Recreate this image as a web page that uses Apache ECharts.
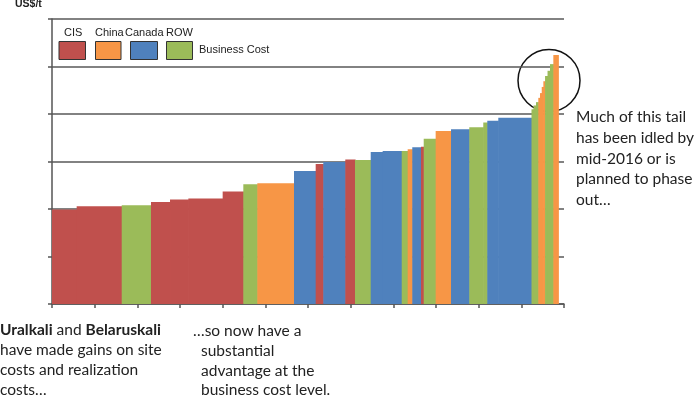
<!DOCTYPE html>
<html>
<head>
<meta charset="utf-8">
<script src="https://cdn.jsdelivr.net/npm/echarts@6/dist/echarts.min.js"></script>
<style>
html,body{margin:0;padding:0;background:#fff;}
#chart{width:698px;height:399px;}
</style>
</head>
<body>
<div id="chart"></div>
<script>
// Regions (legend order)
const regions = ['CIS', 'China', 'Canada', 'ROW'];
// Capacity (width of each bar, x units) in cost order
const capacity = [2.89, 5.28, 3.43, 2.23, 2.15, 4.02, 2.42, 1.64, 4.30, 2.54,
                  0.89, 2.58, 1.14, 1.84, 1.40, 2.23, 0.70, 0.54, 1.02, 0.32,
                  1.40, 1.80, 2.14, 1.64, 0.47, 1.29, 3.89, 0.24, 0.29, 0.27,
                  0.20, 0.20, 0.19, 0.20, 0.29, 0.29, 0.39, 0.58];
// Business cost (US$/t) of each bar
const cost = [199, 206, 208, 215, 220, 222, 237, 252, 254, 280,
              295, 299, 304, 303, 320, 322, 322, 326, 330, 331,
              348, 364, 368, 372, 382, 386, 392, 410, 418, 425,
              434, 444, 457, 469, 480, 491, 505, 524];
// Region of each bar
const region = ['CIS', 'CIS', 'ROW', 'CIS', 'CIS', 'CIS', 'CIS', 'ROW', 'China', 'Canada',
                'CIS', 'Canada', 'CIS', 'ROW', 'Canada', 'Canada', 'ROW', 'China', 'Canada', 'CIS',
                'ROW', 'China', 'Canada', 'ROW', 'ROW', 'Canada', 'Canada', 'ROW', 'ROW', 'ROW',
                'China', 'China', 'China', 'China', 'ROW', 'ROW', 'ROW', 'China'];

const colors = { CIS: '#C0504D', China: '#F79646', Canada: '#4F81BD', ROW: '#9BBB59' };

// Build [start, end, cost, regionIndex]
const barData = [];
let acc = 0;
for (let i = 0; i < capacity.length; i++) {
  barData.push([acc, acc + capacity[i], cost[i], regions.indexOf(region[i])]);
  acc += capacity[i];
}

const chart = echarts.init(document.getElementById('chart'), null, { renderer: 'canvas' });

const txtColor = '#222';
const bodyFont = 'Lato';
const bodySize = 15.5;
function line(x, y, text, rich) {
  return {
    type: 'text', x: x, y: y, silent: true,
    style: {
      text: text, fill: txtColor, fontFamily: bodyFont, fontSize: bodySize,
      verticalAlign: 'bottom',
      rich: rich || undefined
    }
  };
}
const boldRich = { b: { fontWeight: 'bold', fontFamily: bodyFont, fontSize: bodySize, fill: txtColor, color: txtColor } };

const legendItems = [
  { name: 'CIS', lx: 64, sx: 59, sw: 26.5 },
  { name: 'China', lx: 95, sx: 95.5, sw: 25.5 },
  { name: 'Canada', lx: 125, sx: 130.5, sw: 27 },
  { name: 'ROW', lx: 166, sx: 166.5, sw: 26 }
];
const legendGraphics = [];
legendItems.forEach(function (it) {
  legendGraphics.push({
    type: 'text', x: it.lx, y: 38, silent: true,
    style: { text: it.name, fill: '#222', fontFamily: 'Liberation Sans', fontSize: 11, verticalAlign: 'bottom' }
  });
  legendGraphics.push({
    type: 'rect', silent: true,
    shape: { x: it.sx, y: 41.5, width: it.sw, height: 18 },
    style: { fill: colors[it.name], stroke: '#333', lineWidth: 1 }
  });
});
legendGraphics.push({
  type: 'text', x: 199, y: 55, silent: true,
  style: { text: 'Business Cost', fill: '#222', fontFamily: 'Liberation Sans', fontSize: 11, verticalAlign: 'bottom' }
});

const option = {
  animation: false,
  backgroundColor: '#fff',
  grid: { left: 52, top: 19, right: 134, bottom: 95, containLabel: false },
  xAxis: {
    type: 'value', min: 0, max: 60, interval: 5,
    axisLine: { show: true, lineStyle: { color: '#555', width: 1.5 } },
    axisTick: { show: true, inside: false, length: 4, lineStyle: { color: '#555', width: 1.5 } },
    axisLabel: { show: false },
    splitLine: { show: false }
  },
  yAxis: {
    type: 'value', min: 0, max: 600, interval: 100,
    axisLine: { show: true, lineStyle: { color: '#555', width: 1.5 } },
    axisTick: { show: true, inside: false, length: 4, lineStyle: { color: '#555', width: 1.5 } },
    axisLabel: { show: false },
    splitLine: { show: true, lineStyle: { color: '#595959', width: 1.5 } }
  },
  series: [{
    type: 'custom',
    data: barData,
    encode: { x: [0, 1], y: 2 },
    renderItem: function (params, api) {
      const p0 = api.coord([api.value(0), api.value(2)]);
      const p1 = api.coord([api.value(1), 0]);
      const r = regions[api.value(3)];
      return {
        type: 'rect',
        shape: { x: p0[0], y: p0[1], width: p1[0] - p0[0] + 0.6, height: p1[1] - p0[1] },
        style: { fill: colors[r] }
      };
    }
  }],
  graphic: [
    { type: 'text', x: 15, y: 10, silent: true,
      style: { text: 'US$/t', fill: '#222', fontFamily: 'Liberation Sans', fontWeight: 'bold', fontSize: 10.5, verticalAlign: 'bottom' } },
    { type: 'circle', silent: true, shape: { cx: 549, cy: 80.5, r: 31 },
      style: { fill: 'none', stroke: '#111', lineWidth: 1.5 } },
    line(0, 338, '{b|Uralkali} and {b|Belaruskali}', boldRich),
    line(0, 358, 'have made gains on site'),
    line(0, 378, 'costs and realization'),
    line(0, 398, 'costs…'),
    line(193, 338.5, '…so now have a'),
    line(201, 358.5, 'substantial'),
    line(201, 378.5, 'advantage at the'),
    line(201, 398, 'business cost level.'),
    line(576, 124.5, 'Much of this tail'),
    line(576, 145.5, 'has been idled by'),
    line(576, 166.5, 'mid-2016 or is'),
    line(576, 187, 'planned to phase'),
    line(576, 207.5, 'out…')
  ].concat(legendGraphics)
};

chart.setOption(option);
</script>
</body>
</html>
